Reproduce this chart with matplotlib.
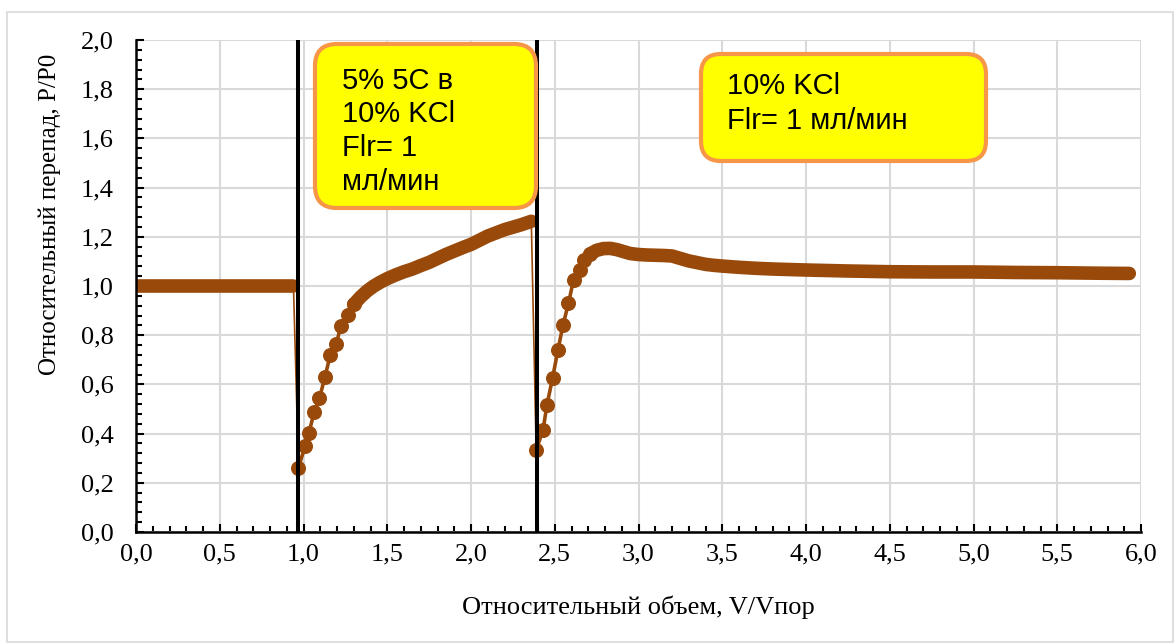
import matplotlib
matplotlib.use("Agg")
import matplotlib.pyplot as plt
import matplotlib.ticker as ticker
from matplotlib.patches import FancyBboxPatch, Rectangle
from matplotlib.transforms import Affine2D

# --- data ---
flat_x = [0.0, 0.1, 0.2, 0.3, 0.4, 0.5, 0.6, 0.7, 0.8, 0.9, 0.94]
flat_y = [1.0, 1.0, 1.0, 1.0, 1.0, 1.0, 1.0, 1.0, 1.0, 1.0, 1.0]

rise1_x = [0.970, 1.010, 1.033, 1.063, 1.095, 1.129, 1.159, 1.195, 1.223, 1.268, 1.30]
rise1_y = [0.262, 0.350, 0.404, 0.486, 0.544, 0.632, 0.718, 0.763, 0.837, 0.884, 0.925]

plat1_x = [1.30, 1.34, 1.38, 1.42, 1.46, 1.50, 1.55, 1.60, 1.65, 1.70, 1.75, 1.80,
           1.85, 1.90, 1.95, 2.00, 2.05, 2.10, 2.15, 2.20, 2.25, 2.30, 2.36]
plat1_y = [0.925, 0.955, 0.980, 1.000, 1.016, 1.030, 1.045, 1.058, 1.069, 1.083, 1.096, 1.112,
           1.128, 1.142, 1.156, 1.169, 1.186, 1.203, 1.216, 1.229, 1.239, 1.249, 1.263]

rise2_x = [2.389, 2.430, 2.453, 2.487, 2.519, 2.549, 2.582, 2.612, 2.648, 2.676, 2.71]
rise2_y = [0.334, 0.414, 0.515, 0.626, 0.740, 0.840, 0.930, 1.024, 1.064, 1.105, 1.130]

plat2_x = [2.71, 2.75, 2.79, 2.83, 2.87, 2.91, 2.95, 3.00, 3.05, 3.10, 3.15, 3.20, 3.25,
           3.30, 3.35, 3.40, 3.45, 3.50, 3.60, 3.70, 3.80, 3.90, 4.00, 4.25, 4.50, 4.75,
           5.00, 5.25, 5.50, 5.75, 5.93]
plat2_y = [1.130, 1.145, 1.152, 1.153, 1.148, 1.140, 1.132, 1.128, 1.126, 1.125, 1.124, 1.122, 1.112,
           1.102, 1.095, 1.088, 1.084, 1.081, 1.076, 1.072, 1.069, 1.067, 1.065, 1.061, 1.058, 1.057,
           1.057, 1.055, 1.054, 1.052, 1.051]

event_x = [0.968, 2.392]

box1_text = "5% 5C в\n10% KCl\nFlr= 1\nмл/мин"
box2_text = "10% KCl\nFlr= 1 мл/мин"

xlabel = "Относительный объем, V/Vпор"
ylabel = "Относительный перепад, P/P0"

brown = "#994A0B"
W, H = 1175, 643

fig = plt.figure(figsize=(W / 100, H / 100), dpi=100)
ax = fig.add_axes([136 / W, 1 - 532 / H, (1141 - 136) / W, (532 - 40) / H])

# pixel coordinates (origin bottom-left)
px = Affine2D().scale(1 / W, 1 / H) + fig.transFigure

# outer frame
fig.patches.append(Rectangle((7, 1), W - 9, H - 13, transform=px, fill=False,
                             ec="#D9D9D9", lw=1.2))

ms = 9.8
# dense parts: markers merge into a band
for xs, ys in [(flat_x, flat_y), (plat1_x, plat1_y), (plat2_x, plat2_y)]:
    ax.plot(xs, ys, color=brown, lw=ms, solid_capstyle="round",
            solid_joinstyle="round", zorder=3)
# sparse parts
for xs, ys in [(rise1_x, rise1_y), (rise2_x, rise2_y)]:
    ax.plot(xs, ys, color=brown, lw=2.6, marker="o", ms=ms, zorder=3)
# thin drops
ax.plot([flat_x[-1], rise1_x[0]], [flat_y[-1], rise1_y[0]], color=brown, lw=1.2, zorder=3)
ax.plot([plat1_x[-1], rise2_x[0]], [plat1_y[-1], rise2_y[0]], color=brown, lw=1.2, zorder=3)

for xv in event_x:
    ax.axvline(xv, color="black", lw=2.9, zorder=4)

ax.set_xlim(0, 6)
ax.set_ylim(0, 2)
ax.xaxis.set_major_locator(ticker.MultipleLocator(0.5))
ax.xaxis.set_minor_locator(ticker.MultipleLocator(0.1))
ax.yaxis.set_major_locator(ticker.MultipleLocator(0.2))
ax.yaxis.set_minor_locator(ticker.MultipleLocator(0.04))
fmt = ticker.FuncFormatter(lambda v, p: f"{v:.1f}".replace(".", ","))
ax.xaxis.set_major_formatter(fmt)
ax.yaxis.set_major_formatter(fmt)

ax.grid(which="major", color="#D9D9D9", lw=1.5, zorder=0)
ax.set_axisbelow(True)
for s in ["top", "right"]:
    ax.spines[s].set_visible(False)
for s in ["left", "bottom"]:
    ax.spines[s].set_linewidth(1.8)
    ax.spines[s].set_zorder(5)

serif = "Liberation Serif"
ax.tick_params(which="major", direction="in", length=6, width=1.5)
ax.tick_params(which="minor", direction="in", length=4, width=1.5)
ax.tick_params(axis="x", which="major", pad=8)
ax.tick_params(axis="y", which="major", pad=16)
for lab in ax.get_xticklabels() + ax.get_yticklabels():
    lab.set_fontfamily(serif)
    lab.set_fontsize(19)

ax.set_xlabel(xlabel, fontfamily=serif, fontsize=19)
ax.set_ylabel(ylabel, fontfamily=serif, fontsize=18)
ax.xaxis.set_label_coords(0.5, -0.13)
ax.yaxis.set_label_coords(-0.075, 0.646)

# annotation boxes
sans = "Liberation Sans"
fig.patches.append(FancyBboxPatch((315, H - 208), 221, 164, transform=px,
                                  boxstyle="round,pad=0,rounding_size=22",
                                  fc="#FFFF00", ec="#F79646", lw=3, zorder=6))
fig.patches.append(FancyBboxPatch((701, H - 161), 285, 107, transform=px,
                                  boxstyle="round,pad=0,rounding_size=20",
                                  fc="#FFFF00", ec="#F79646", lw=3, zorder=6))
fig.text(342, H - 67, box1_text, transform=px, fontfamily=sans, fontsize=21,
         va="top", ha="left", linespacing=1.25, zorder=7)
fig.text(727, H - 72, box2_text, transform=px, fontfamily=sans, fontsize=21,
         va="top", ha="left", linespacing=1.3, zorder=7)

fig.savefig("out.png", dpi=100)
